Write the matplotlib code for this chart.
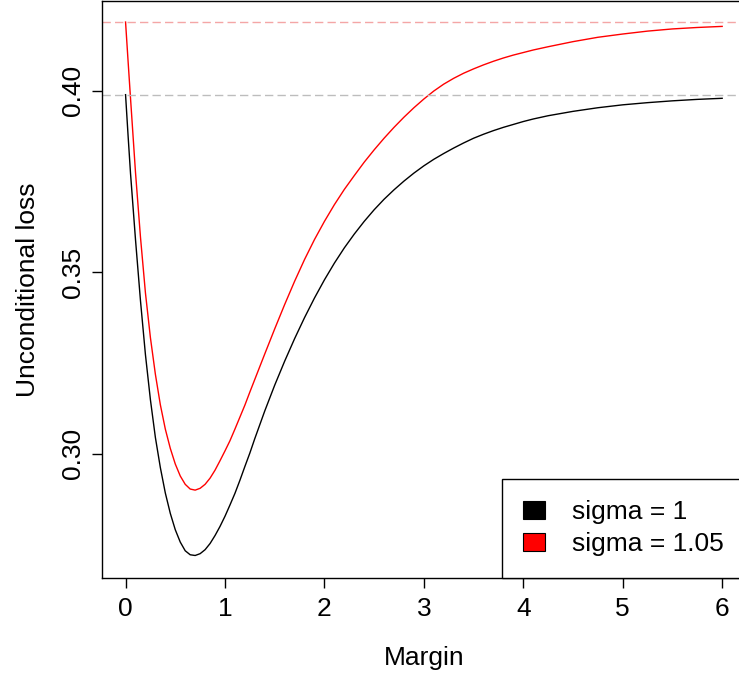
import matplotlib
matplotlib.use("Agg")
import matplotlib.pyplot as plt
from matplotlib.patches import Patch

# values (same margin grid for both curves)
margin = [0.0, 0.025, 0.05, 0.10, 0.15, 0.20, 0.25, 0.30, 0.35, 0.40, 0.45, 0.50,
          0.55, 0.60, 0.65, 0.70, 0.75, 0.80, 0.85, 0.90, 0.95, 1.00, 1.05, 1.10,
          1.15, 1.20, 1.25, 1.30, 1.4, 1.5, 1.6, 1.7, 1.8, 1.9, 2.0, 2.1, 2.2, 2.3,
          2.4, 2.5, 2.6, 2.7, 2.8, 2.9, 3.0, 3.1, 3.2, 3.3, 3.4, 3.5, 3.6, 3.7, 3.8,
          3.9, 4.0, 4.1, 4.25, 4.5, 4.75, 5.0, 5.25, 5.5, 5.75, 6.0]

loss_s1 = [0.3989, 0.3878, 0.3772, 0.3590, 0.3422, 0.3273, 0.3149, 0.3045, 0.2962,
           0.2892, 0.2836, 0.2791, 0.2757, 0.2733, 0.2722, 0.2720, 0.2725, 0.2736,
           0.2753, 0.2775, 0.2800, 0.2828, 0.2859, 0.2891, 0.2927, 0.2965, 0.3002,
           0.3042, 0.3118, 0.3189, 0.3255, 0.3317, 0.3375, 0.3429, 0.3479, 0.3525,
           0.3567, 0.3605, 0.3640, 0.3672, 0.3701, 0.3727, 0.3751, 0.3773, 0.3793,
           0.3811, 0.3827, 0.3842, 0.3856, 0.3869, 0.3880, 0.3890, 0.3899, 0.3907,
           0.3915, 0.3922, 0.3931, 0.3943, 0.3953, 0.3961, 0.3967, 0.3972, 0.3976,
           0.3979]

loss_s105 = [0.4189, 0.4083, 0.3979, 0.3775, 0.3597, 0.3443, 0.3320, 0.3219, 0.3135,
             0.3068, 0.3015, 0.2972, 0.2939, 0.2916, 0.2903, 0.2900, 0.2905, 0.2916,
             0.2933, 0.2955, 0.2981, 0.3008, 0.3036, 0.3068, 0.3101, 0.3134, 0.3170,
             0.3205, 0.3275, 0.3344, 0.3411, 0.3475, 0.3535, 0.3590, 0.3640, 0.3686,
             0.3728, 0.3766, 0.3803, 0.3837, 0.3869, 0.3899, 0.3927, 0.3953, 0.3977,
             0.3999, 0.4018, 0.4034, 0.4048, 0.4060, 0.4071, 0.4081, 0.4090, 0.4098,
             0.4105, 0.4112, 0.4121, 0.4135, 0.4147, 0.4156, 0.4164, 0.4170, 0.4174,
             0.4177]

asymptotes = [0.3989, 0.4189]
series_labels = ["sigma = 1", "sigma = 1.05"]
series_colors = ["black", "red"]
x_ticks = [0, 1, 2, 3, 4, 5, 6]
y_ticks = [0.30, 0.35, 0.40]

plt.rcParams['font.family'] = ['Liberation Sans', 'DejaVu Sans']
fs = 19

fig = plt.figure(figsize=(7.39, 6.75), dpi=100)
ax = fig.add_axes([0.1376, 0.1437, 0.8719, 0.8554])

ax.plot(margin, loss_s1, color=series_colors[0], lw=1.0)
ax.plot(margin, loss_s105, color=series_colors[1], lw=1.0)
ax.axhline(asymptotes[0], color="#bdbdbd", lw=1.0, ls=(0, (6, 3)))
ax.axhline(asymptotes[1], color="#f4a6a6", lw=1.0, ls=(0, (6, 3)))

ax.set_xlim(-0.24, 6.24)
ax.set_ylim(0.2658, 0.4248)
ax.set_xticks(x_ticks)
ax.set_xticklabels([str(t) for t in x_ticks])
ax.set_yticks(y_ticks)
ax.set_yticklabels(["%.2f" % t for t in y_ticks], rotation=90, va="center")
ax.tick_params(axis="both", labelsize=fs, length=7, width=1.0, direction="out")
ax.tick_params(axis="x", pad=7)
ax.tick_params(axis="y", pad=5)
for s in ax.spines.values():
    s.set_linewidth(1.0)

ax.set_xlabel("Margin", fontsize=fs, labelpad=18)
ax.set_ylabel("Unconditional loss", fontsize=fs, labelpad=15)

handles = [Patch(facecolor=c, edgecolor="black", lw=0.8) for c in series_colors]
ax.legend(handles, series_labels, loc="lower left", bbox_to_anchor=(0.621, 0.0),
          fontsize=fs, frameon=True, fancybox=False, edgecolor="black",
          framealpha=1, borderpad=0.82, handlelength=0.8, handleheight=0.65,
          handletextpad=1.05, labelspacing=0.3, borderaxespad=0)
ax.get_legend().get_frame().set_linewidth(1.0)

fig.savefig("out.png", dpi=100)
